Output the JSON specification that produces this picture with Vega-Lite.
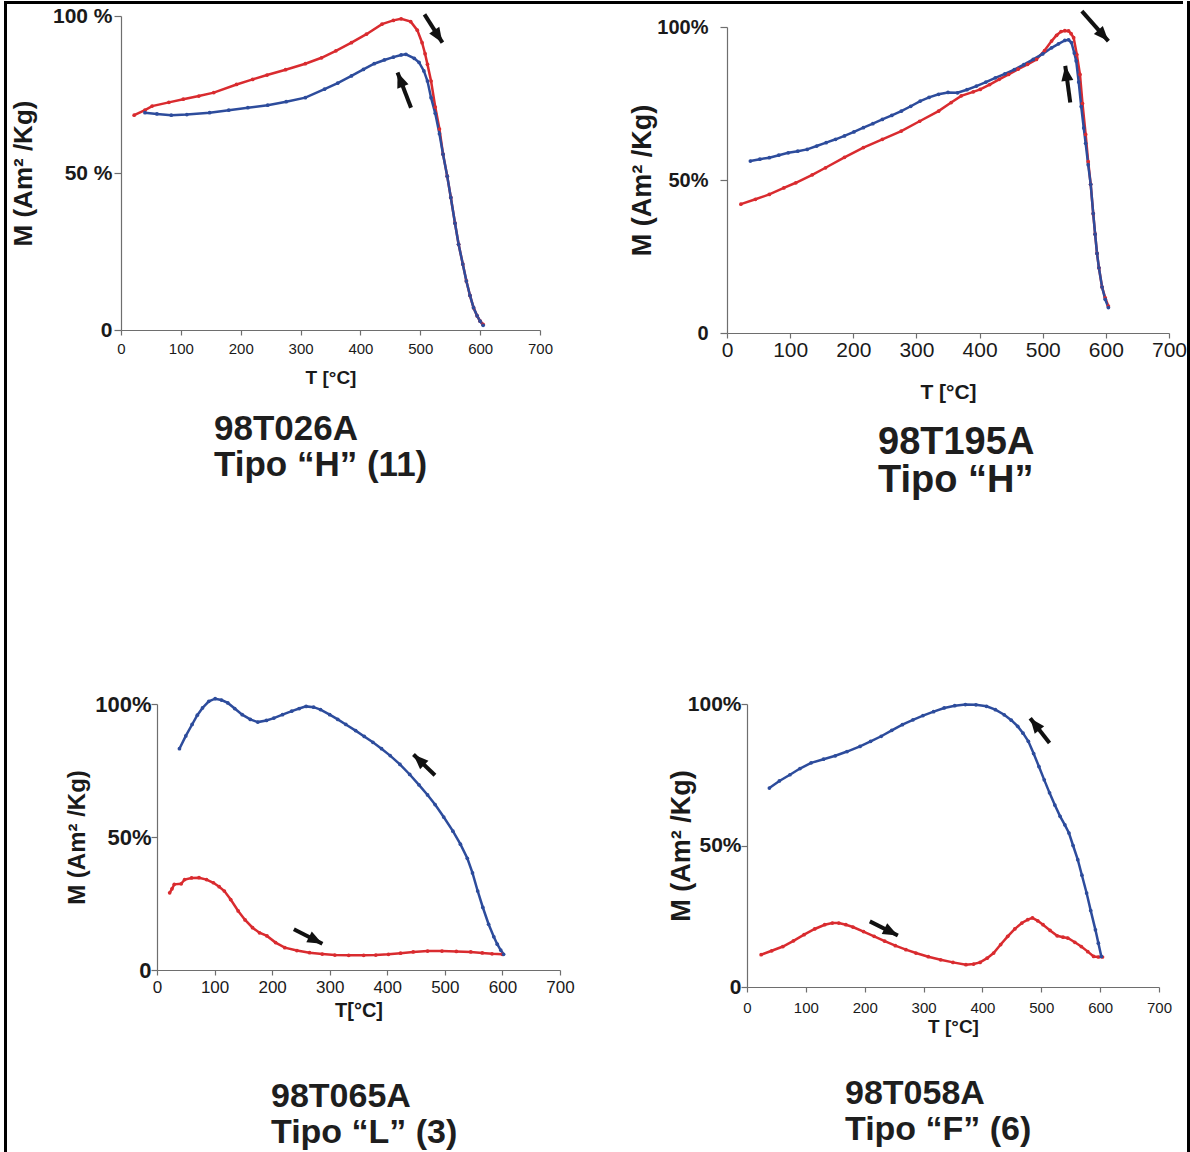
{
  "$schema": "https://vega.github.io/schema/vega-lite/v6.json",
  "padding": {"left": 4, "top": 1, "right": 0, "bottom": 0},
  "background": "white",
  "config": {
    "view": {"stroke": null},
    "font": "Liberation Sans",
    "axis": {"grid": false, "domainColor": "#6e6e6e", "tickColor": "#6e6e6e", "labelColor": "#1a1a1a", "titleColor": "#1a1a1a", "labelFlush": false, "labelOverlap": false, "labelBound": false, "domainWidth": 1.2, "tickWidth": 1.2},
    "title": {"color": "#1e1e1e", "fontWeight": "bold", "orient": "bottom", "anchor": "start", "align": "left", "frame": "group"}
  },
  "datasets": {
    "p1": [
      {"T": 22, "M": 68.4, "run": "heating"}, {"T": 40, "M": 70, "run": "heating"}, {"T": 52, "M": 71.3, "run": "heating"}, {"T": 80, "M": 72.5, "run": "heating"}, {"T": 104, "M": 73.5, "run": "heating"}, {"T": 130, "M": 74.5, "run": "heating"}, {"T": 155, "M": 75.6, "run": "heating"}, {"T": 193, "M": 78.2, "run": "heating"}, {"T": 220, "M": 79.8, "run": "heating"}, {"T": 244, "M": 81.2, "run": "heating"}, {"T": 275, "M": 82.9, "run": "heating"}, {"T": 308, "M": 84.8, "run": "heating"}, {"T": 335, "M": 86.7, "run": "heating"}, {"T": 359, "M": 88.9, "run": "heating"}, {"T": 385, "M": 91.5, "run": "heating"}, {"T": 410, "M": 94.2, "run": "heating"}, {"T": 436, "M": 97.4, "run": "heating"}, {"T": 455, "M": 98.6, "run": "heating"}, {"T": 468, "M": 99.1, "run": "heating"}, {"T": 484, "M": 98.2, "run": "heating"}, {"T": 495, "M": 95.5, "run": "heating"}, {"T": 503, "M": 91.5, "run": "heating"}, {"T": 508, "M": 88, "run": "heating"}, {"T": 512, "M": 84.6, "run": "heating"}, {"T": 518, "M": 79.3, "run": "heating"}, {"T": 525, "M": 71, "run": "heating"}, {"T": 532, "M": 64, "run": "heating"}, {"T": 538, "M": 56, "run": "heating"}, {"T": 545, "M": 49, "run": "heating"}, {"T": 551, "M": 42.2, "run": "heating"}, {"T": 558, "M": 34, "run": "heating"}, {"T": 564, "M": 27.3, "run": "heating"}, {"T": 571, "M": 21, "run": "heating"}, {"T": 577, "M": 15.6, "run": "heating"}, {"T": 583, "M": 11, "run": "heating"}, {"T": 589, "M": 7.1, "run": "heating"}, {"T": 595, "M": 4.5, "run": "heating"}, {"T": 600, "M": 2.8, "run": "heating"}, {"T": 605, "M": 1.8, "run": "heating"},
      {"T": 40, "M": 69.2, "run": "cooling"}, {"T": 60, "M": 68.8, "run": "cooling"}, {"T": 84, "M": 68.4, "run": "cooling"}, {"T": 110, "M": 68.6, "run": "cooling"}, {"T": 148, "M": 69.2, "run": "cooling"}, {"T": 180, "M": 70, "run": "cooling"}, {"T": 212, "M": 70.8, "run": "cooling"}, {"T": 245, "M": 71.6, "run": "cooling"}, {"T": 276, "M": 72.7, "run": "cooling"}, {"T": 308, "M": 74, "run": "cooling"}, {"T": 340, "M": 76.7, "run": "cooling"}, {"T": 362, "M": 78.6, "run": "cooling"}, {"T": 385, "M": 80.9, "run": "cooling"}, {"T": 405, "M": 83, "run": "cooling"}, {"T": 423, "M": 84.8, "run": "cooling"}, {"T": 440, "M": 86, "run": "cooling"}, {"T": 455, "M": 86.9, "run": "cooling"}, {"T": 468, "M": 87.6, "run": "cooling"}, {"T": 476, "M": 87.8, "run": "cooling"}, {"T": 490, "M": 86.5, "run": "cooling"}, {"T": 498, "M": 85.2, "run": "cooling"}, {"T": 506, "M": 82.5, "run": "cooling"}, {"T": 512, "M": 79.3, "run": "cooling"}, {"T": 518, "M": 74, "run": "cooling"}, {"T": 525, "M": 69, "run": "cooling"}, {"T": 532, "M": 62.5, "run": "cooling"}, {"T": 538, "M": 56, "run": "cooling"}, {"T": 545, "M": 49, "run": "cooling"}, {"T": 551, "M": 42.2, "run": "cooling"}, {"T": 558, "M": 34, "run": "cooling"}, {"T": 564, "M": 27.3, "run": "cooling"}, {"T": 571, "M": 21, "run": "cooling"}, {"T": 577, "M": 15.6, "run": "cooling"}, {"T": 583, "M": 11, "run": "cooling"}, {"T": 589, "M": 7.1, "run": "cooling"}, {"T": 595, "M": 4.5, "run": "cooling"}, {"T": 600, "M": 2.8, "run": "cooling"}, {"T": 605, "M": 1.5, "run": "cooling"}
    ],
    "p2": [
      {"T": 22, "M": 42.1, "run": "heating"}, {"T": 45, "M": 43.7, "run": "heating"}, {"T": 67, "M": 45.3, "run": "heating"}, {"T": 90, "M": 47.4, "run": "heating"}, {"T": 109, "M": 49.1, "run": "heating"}, {"T": 135, "M": 51.7, "run": "heating"}, {"T": 156, "M": 54, "run": "heating"}, {"T": 186, "M": 57.4, "run": "heating"}, {"T": 216, "M": 60.6, "run": "heating"}, {"T": 246, "M": 63.3, "run": "heating"}, {"T": 276, "M": 66, "run": "heating"}, {"T": 305, "M": 69.2, "run": "heating"}, {"T": 335, "M": 72.5, "run": "heating"}, {"T": 355, "M": 75.3, "run": "heating"}, {"T": 371, "M": 77.5, "run": "heating"}, {"T": 390, "M": 78.8, "run": "heating"}, {"T": 401, "M": 79.6, "run": "heating"}, {"T": 416, "M": 81.2, "run": "heating"}, {"T": 431, "M": 82.9, "run": "heating"}, {"T": 446, "M": 84.5, "run": "heating"}, {"T": 461, "M": 86.2, "run": "heating"}, {"T": 476, "M": 87.8, "run": "heating"}, {"T": 490, "M": 89.4, "run": "heating"}, {"T": 503, "M": 92.3, "run": "heating"}, {"T": 514, "M": 95.4, "run": "heating"}, {"T": 522, "M": 97.3, "run": "heating"}, {"T": 529, "M": 98.5, "run": "heating"}, {"T": 535, "M": 98.8, "run": "heating"}, {"T": 541, "M": 98.7, "run": "heating"}, {"T": 545, "M": 97.8, "run": "heating"}, {"T": 549, "M": 96.5, "run": "heating"}, {"T": 554, "M": 91, "run": "heating"}, {"T": 559, "M": 84.5, "run": "heating"}, {"T": 563, "M": 75, "run": "heating"}, {"T": 568, "M": 64.9, "run": "heating"}, {"T": 572, "M": 56, "run": "heating"}, {"T": 576, "M": 48.6, "run": "heating"}, {"T": 580, "M": 39, "run": "heating"}, {"T": 583, "M": 32.3, "run": "heating"}, {"T": 586, "M": 26, "run": "heating"}, {"T": 589, "M": 21.3, "run": "heating"}, {"T": 594, "M": 15, "run": "heating"}, {"T": 599, "M": 11.5, "run": "heating"}, {"T": 604, "M": 8.8, "run": "heating"},
      {"T": 37, "M": 56.2, "run": "cooling"}, {"T": 52, "M": 56.8, "run": "cooling"}, {"T": 67, "M": 57.3, "run": "cooling"}, {"T": 82, "M": 58.1, "run": "cooling"}, {"T": 97, "M": 58.9, "run": "cooling"}, {"T": 112, "M": 59.4, "run": "cooling"}, {"T": 127, "M": 60, "run": "cooling"}, {"T": 142, "M": 61.1, "run": "cooling"}, {"T": 157, "M": 62.2, "run": "cooling"}, {"T": 172, "M": 63.3, "run": "cooling"}, {"T": 186, "M": 64.4, "run": "cooling"}, {"T": 201, "M": 65.7, "run": "cooling"}, {"T": 216, "M": 67.1, "run": "cooling"}, {"T": 231, "M": 68.4, "run": "cooling"}, {"T": 246, "M": 69.8, "run": "cooling"}, {"T": 261, "M": 71.1, "run": "cooling"}, {"T": 276, "M": 72.5, "run": "cooling"}, {"T": 291, "M": 74.1, "run": "cooling"}, {"T": 306, "M": 75.8, "run": "cooling"}, {"T": 320, "M": 77, "run": "cooling"}, {"T": 335, "M": 78, "run": "cooling"}, {"T": 350, "M": 78.6, "run": "cooling"}, {"T": 365, "M": 78.5, "run": "cooling"}, {"T": 380, "M": 79.5, "run": "cooling"}, {"T": 395, "M": 80.7, "run": "cooling"}, {"T": 410, "M": 82, "run": "cooling"}, {"T": 425, "M": 83.4, "run": "cooling"}, {"T": 440, "M": 84.7, "run": "cooling"}, {"T": 455, "M": 86.1, "run": "cooling"}, {"T": 470, "M": 87.7, "run": "cooling"}, {"T": 485, "M": 89.4, "run": "cooling"}, {"T": 500, "M": 91.2, "run": "cooling"}, {"T": 514, "M": 93.2, "run": "cooling"}, {"T": 525, "M": 94.5, "run": "cooling"}, {"T": 535, "M": 95.6, "run": "cooling"}, {"T": 541, "M": 95.8, "run": "cooling"}, {"T": 545.5, "M": 94.9, "run": "cooling"}, {"T": 550, "M": 91.5, "run": "cooling"}, {"T": 553, "M": 88.9, "run": "cooling"}, {"T": 557, "M": 82, "run": "cooling"}, {"T": 561, "M": 74, "run": "cooling"}, {"T": 565, "M": 67, "run": "cooling"}, {"T": 568, "M": 62, "run": "cooling"}, {"T": 572, "M": 55, "run": "cooling"}, {"T": 576, "M": 48.6, "run": "cooling"}, {"T": 580, "M": 39, "run": "cooling"}, {"T": 583, "M": 32.3, "run": "cooling"}, {"T": 586, "M": 26, "run": "cooling"}, {"T": 589, "M": 21.3, "run": "cooling"}, {"T": 594, "M": 15, "run": "cooling"}, {"T": 599, "M": 11, "run": "cooling"}, {"T": 604, "M": 8.3, "run": "cooling"}
    ],
    "p3": [
      {"T": 22, "M": 29, "run": "heating"}, {"T": 26, "M": 30.5, "run": "heating"}, {"T": 30, "M": 32.2, "run": "heating"}, {"T": 42, "M": 32.4, "run": "heating"}, {"T": 48, "M": 34, "run": "heating"}, {"T": 60, "M": 34.6, "run": "heating"}, {"T": 73, "M": 34.7, "run": "heating"}, {"T": 86, "M": 34, "run": "heating"}, {"T": 98, "M": 32.8, "run": "heating"}, {"T": 108, "M": 31.3, "run": "heating"}, {"T": 117, "M": 29.7, "run": "heating"}, {"T": 128, "M": 26.5, "run": "heating"}, {"T": 141, "M": 22.2, "run": "heating"}, {"T": 153, "M": 18.8, "run": "heating"}, {"T": 166, "M": 15.9, "run": "heating"}, {"T": 178, "M": 14, "run": "heating"}, {"T": 191, "M": 12.8, "run": "heating"}, {"T": 206, "M": 10.3, "run": "heating"}, {"T": 222, "M": 8.4, "run": "heating"}, {"T": 243, "M": 7.3, "run": "heating"}, {"T": 265, "M": 6.5, "run": "heating"}, {"T": 287, "M": 6, "run": "heating"}, {"T": 309, "M": 5.6, "run": "heating"}, {"T": 333, "M": 5.5, "run": "heating"}, {"T": 359, "M": 5.5, "run": "heating"}, {"T": 380, "M": 5.6, "run": "heating"}, {"T": 402, "M": 5.9, "run": "heating"}, {"T": 423, "M": 6.3, "run": "heating"}, {"T": 445, "M": 6.8, "run": "heating"}, {"T": 470, "M": 7.1, "run": "heating"}, {"T": 495, "M": 7.1, "run": "heating"}, {"T": 520, "M": 7, "run": "heating"}, {"T": 545, "M": 6.8, "run": "heating"}, {"T": 565, "M": 6.4, "run": "heating"}, {"T": 582, "M": 6.1, "run": "heating"}, {"T": 600, "M": 5.9, "run": "heating"},
      {"T": 39, "M": 83.2, "run": "cooling"}, {"T": 50, "M": 88, "run": "cooling"}, {"T": 61, "M": 92.3, "run": "cooling"}, {"T": 70, "M": 95.8, "run": "cooling"}, {"T": 79, "M": 98.5, "run": "cooling"}, {"T": 90, "M": 101, "run": "cooling"}, {"T": 101, "M": 102, "run": "cooling"}, {"T": 112, "M": 101.5, "run": "cooling"}, {"T": 123, "M": 100.4, "run": "cooling"}, {"T": 135, "M": 98.3, "run": "cooling"}, {"T": 148, "M": 96, "run": "cooling"}, {"T": 162, "M": 94.2, "run": "cooling"}, {"T": 175, "M": 93.2, "run": "cooling"}, {"T": 190, "M": 93.8, "run": "cooling"}, {"T": 203, "M": 94.7, "run": "cooling"}, {"T": 218, "M": 96, "run": "cooling"}, {"T": 234, "M": 97.3, "run": "cooling"}, {"T": 247, "M": 98.3, "run": "cooling"}, {"T": 259, "M": 99.1, "run": "cooling"}, {"T": 272, "M": 98.8, "run": "cooling"}, {"T": 284, "M": 97.9, "run": "cooling"}, {"T": 300, "M": 96, "run": "cooling"}, {"T": 314, "M": 94.2, "run": "cooling"}, {"T": 328, "M": 92.3, "run": "cooling"}, {"T": 345, "M": 90, "run": "cooling"}, {"T": 360, "M": 87.8, "run": "cooling"}, {"T": 375, "M": 85.6, "run": "cooling"}, {"T": 390, "M": 83.2, "run": "cooling"}, {"T": 405, "M": 80.6, "run": "cooling"}, {"T": 422, "M": 77.3, "run": "cooling"}, {"T": 439, "M": 73.5, "run": "cooling"}, {"T": 455, "M": 69.6, "run": "cooling"}, {"T": 470, "M": 65.8, "run": "cooling"}, {"T": 483, "M": 62.2, "run": "cooling"}, {"T": 498, "M": 57.5, "run": "cooling"}, {"T": 514, "M": 52.2, "run": "cooling"}, {"T": 527, "M": 47.3, "run": "cooling"}, {"T": 539, "M": 42, "run": "cooling"}, {"T": 548, "M": 36.5, "run": "cooling"}, {"T": 557, "M": 29.7, "run": "cooling"}, {"T": 566, "M": 23.5, "run": "cooling"}, {"T": 576, "M": 17.2, "run": "cooling"}, {"T": 585, "M": 12.5, "run": "cooling"}, {"T": 591, "M": 9.7, "run": "cooling"}, {"T": 597, "M": 7.5, "run": "cooling"}, {"T": 602, "M": 5.9, "run": "cooling"}
    ],
    "p4": [
      {"T": 24, "M": 11.4, "run": "heating"}, {"T": 42, "M": 12.8, "run": "heating"}, {"T": 61, "M": 14.3, "run": "heating"}, {"T": 79, "M": 16.3, "run": "heating"}, {"T": 97, "M": 18.5, "run": "heating"}, {"T": 115, "M": 20.5, "run": "heating"}, {"T": 132, "M": 22, "run": "heating"}, {"T": 145, "M": 22.6, "run": "heating"}, {"T": 156, "M": 22.6, "run": "heating"}, {"T": 168, "M": 22, "run": "heating"}, {"T": 180, "M": 21.2, "run": "heating"}, {"T": 198, "M": 19.6, "run": "heating"}, {"T": 216, "M": 17.9, "run": "heating"}, {"T": 234, "M": 16.2, "run": "heating"}, {"T": 252, "M": 14.6, "run": "heating"}, {"T": 270, "M": 13.2, "run": "heating"}, {"T": 287, "M": 12, "run": "heating"}, {"T": 308, "M": 10.7, "run": "heating"}, {"T": 329, "M": 9.6, "run": "heating"}, {"T": 350, "M": 8.7, "run": "heating"}, {"T": 372, "M": 7.9, "run": "heating"}, {"T": 385, "M": 8.1, "run": "heating"}, {"T": 396, "M": 8.7, "run": "heating"}, {"T": 408, "M": 10.2, "run": "heating"}, {"T": 419, "M": 12, "run": "heating"}, {"T": 431, "M": 15, "run": "heating"}, {"T": 443, "M": 17.9, "run": "heating"}, {"T": 455, "M": 20.5, "run": "heating"}, {"T": 467, "M": 22.6, "run": "heating"}, {"T": 477, "M": 23.8, "run": "heating"}, {"T": 485, "M": 24.4, "run": "heating"}, {"T": 494, "M": 23.4, "run": "heating"}, {"T": 503, "M": 22, "run": "heating"}, {"T": 515, "M": 20, "run": "heating"}, {"T": 527, "M": 18.1, "run": "heating"}, {"T": 537, "M": 17.6, "run": "heating"}, {"T": 545, "M": 17.3, "run": "heating"}, {"T": 557, "M": 15.8, "run": "heating"}, {"T": 568, "M": 14.3, "run": "heating"}, {"T": 579, "M": 12.5, "run": "heating"}, {"T": 589, "M": 10.8, "run": "heating"}, {"T": 597, "M": 10.6, "run": "heating"}, {"T": 604, "M": 10.6, "run": "heating"},
      {"T": 38, "M": 70.3, "run": "cooling"}, {"T": 55, "M": 72.8, "run": "cooling"}, {"T": 73, "M": 75, "run": "cooling"}, {"T": 90, "M": 77.2, "run": "cooling"}, {"T": 109, "M": 79.2, "run": "cooling"}, {"T": 130, "M": 80.5, "run": "cooling"}, {"T": 150, "M": 81.7, "run": "cooling"}, {"T": 170, "M": 83.2, "run": "cooling"}, {"T": 192, "M": 85, "run": "cooling"}, {"T": 210, "M": 86.8, "run": "cooling"}, {"T": 228, "M": 88.6, "run": "cooling"}, {"T": 246, "M": 90.7, "run": "cooling"}, {"T": 264, "M": 92.7, "run": "cooling"}, {"T": 282, "M": 94.4, "run": "cooling"}, {"T": 299, "M": 95.9, "run": "cooling"}, {"T": 317, "M": 97.3, "run": "cooling"}, {"T": 335, "M": 98.6, "run": "cooling"}, {"T": 353, "M": 99.4, "run": "cooling"}, {"T": 371, "M": 99.8, "run": "cooling"}, {"T": 389, "M": 99.7, "run": "cooling"}, {"T": 407, "M": 99.2, "run": "cooling"}, {"T": 422, "M": 98, "run": "cooling"}, {"T": 437, "M": 96.2, "run": "cooling"}, {"T": 449, "M": 94.3, "run": "cooling"}, {"T": 460, "M": 92.1, "run": "cooling"}, {"T": 469, "M": 89.7, "run": "cooling"}, {"T": 478, "M": 86.8, "run": "cooling"}, {"T": 487, "M": 82.5, "run": "cooling"}, {"T": 496, "M": 77.9, "run": "cooling"}, {"T": 505, "M": 73.2, "run": "cooling"}, {"T": 514, "M": 68.6, "run": "cooling"}, {"T": 523, "M": 64.3, "run": "cooling"}, {"T": 532, "M": 60.3, "run": "cooling"}, {"T": 540, "M": 57.3, "run": "cooling"}, {"T": 547, "M": 54.4, "run": "cooling"}, {"T": 554, "M": 50, "run": "cooling"}, {"T": 562, "M": 45, "run": "cooling"}, {"T": 569, "M": 39.5, "run": "cooling"}, {"T": 577, "M": 33.2, "run": "cooling"}, {"T": 584, "M": 27, "run": "cooling"}, {"T": 592, "M": 20.2, "run": "cooling"}, {"T": 597, "M": 15.5, "run": "cooling"}, {"T": 602, "M": 10.8, "run": "cooling"}
    ],
    "a1": [{"T": 507, "M": 100.5, "T2": 537, "M2": 91.5, "angle": 147}, {"T": 484.5, "M": 70.8, "T2": 462, "M2": 82, "angle": 339}],
    "a2": [{"T": 562, "M": 105.2, "T2": 604, "M2": 95.4, "angle": 138}, {"T": 543.6, "M": 75.3, "T2": 535.7, "M2": 87.3, "angle": 352}],
    "a3": [{"T": 482.8, "M": 73.2, "T2": 445.5, "M2": 81, "angle": 314}, {"T": 237.7, "M": 15.3, "T2": 287.3, "M2": 9.9, "angle": 117}],
    "a4": [{"T": 514, "M": 86.2, "T2": 481.2, "M2": 95, "angle": 322}, {"T": 208.7, "M": 23.2, "T2": 256.3, "M2": 18.2, "angle": 117}]
  },
  "spacing": 0,
  "hconcat": [
    {"width": 3, "height": 1170, "view": {"fill": "#000000", "stroke": null}, "data": {"values": []}, "mark": "point"},
    {
      "spacing": 0,
      "hconcat": [
        {
          "spacing": 0,
          "vconcat": [
            {"width": 1176, "height": 3, "view": {"fill": "#000000", "stroke": null}, "data": {"values": []}, "mark": "point"},
            {
              "spacing": 193,
              "vconcat": [
                {
                  "spacing": 0,
                  "hconcat": [
                    {"width": 3, "height": 1, "data": {"values": []}, "mark": "point"},
                    {
                      "spacing": 75,
                      "hconcat": [
                        {
                          "spacing": 0,
                          "vconcat": [
                            {"width": 1, "height": 1, "data": {"values": []}, "mark": "point"},
                            {
                              "width": 419, "height": 314,
                              "title": {"text": ["98T026A", "Tipo “H” (11)"], "dx": 93, "fontSize": 35, "lineHeight": 36, "offset": 25},
                              "layer": [
                                {"data": {"name": "p1"}, "mark": {"type": "line", "strokeWidth": 2.5},
                                 "encoding": {
                                   "x": {"field": "T", "type": "quantitative", "scale": {"domain": [0, 700], "nice": false}, "axis": {"title": "T [°C]", "values": [0, 100, 200, 300, 400, 500, 600, 700], "tickSize": 5, "labelFontSize": 15, "labelPadding": 6, "titleFontSize": 19, "titleFontWeight": "bold", "titlePadding": 12}},
                                   "y": {"field": "M", "type": "quantitative", "scale": {"domain": [0, 100], "nice": false}, "axis": {"title": "M (Am² /Kg)", "values": [0, 50, 100], "labelExpr": "datum.value == 0 ? '0' : datum.value + ' %'", "tickSize": 7, "labelPadding": 2, "labelFontSize": 21, "labelFontWeight": "bold", "titleFontSize": 26, "titleFontWeight": "bold", "titlePadding": 16}},
                                   "color": {"field": "run", "type": "nominal", "scale": {"domain": ["heating", "cooling"], "range": ["#d92b2f", "#2d4c9c"]}, "legend": null}
                                 }},
                                {"data": {"name": "p1"}, "mark": {"type": "point", "filled": true, "size": 14, "opacity": 1},
                                 "encoding": {"x": {"field": "T", "type": "quantitative"}, "y": {"field": "M", "type": "quantitative"}, "color": {"field": "run", "type": "nominal"}}},
                                {"data": {"name": "a1"}, "mark": {"type": "rule", "strokeWidth": 4, "color": "#111111"},
                                 "encoding": {"x": {"field": "T", "type": "quantitative"}, "y": {"field": "M", "type": "quantitative"}, "x2": {"field": "T2"}, "y2": {"field": "M2"}}},
                                {"data": {"name": "a1"}, "mark": {"type": "point", "shape": "M0,0L-0.6,1.5L0.6,1.5Z", "filled": true, "size": 400, "opacity": 1, "color": "#111111"},
                                 "encoding": {"x": {"field": "T2", "type": "quantitative"}, "y": {"field": "M2", "type": "quantitative"}, "angle": {"field": "angle", "type": "quantitative", "scale": null}}}
                              ]
                            }
                          ]
                        },
                        {
                          "spacing": 0,
                          "vconcat": [
                            {"width": 1, "height": 5, "data": {"values": []}, "mark": "point"},
                            {
                              "width": 442, "height": 306,
                              "title": {"text": ["98T195A", "Tipo “H”"], "dx": 151, "fontSize": 38, "lineHeight": 38, "offset": 22},
                              "layer": [
                                {"data": {"name": "p2"}, "mark": {"type": "line", "strokeWidth": 2.5},
                                 "encoding": {
                                   "x": {"field": "T", "type": "quantitative", "scale": {"domain": [0, 700], "nice": false}, "axis": {"title": "T [°C]", "values": [0, 100, 200, 300, 400, 500, 600, 700], "tickSize": 5, "labelFontSize": 21, "labelPadding": 1, "titleFontSize": 21, "titleFontWeight": "bold", "titlePadding": 21}},
                                   "y": {"field": "M", "type": "quantitative", "scale": {"domain": [0, 100], "nice": false}, "axis": {"title": "M (Am² /Kg)", "values": [0, 50, 100], "labelExpr": "datum.value == 0 ? '0' : datum.value + '%'", "tickSize": 7, "labelPadding": 12, "labelFontSize": 20, "labelFontWeight": "bold", "titleFontSize": 27, "titleFontWeight": "bold", "titlePadding": 0}},
                                   "color": {"field": "run", "type": "nominal", "scale": {"domain": ["heating", "cooling"], "range": ["#d92b2f", "#2d4c9c"]}, "legend": null}
                                 }},
                                {"data": {"name": "p2"}, "mark": {"type": "point", "filled": true, "size": 14, "opacity": 1},
                                 "encoding": {"x": {"field": "T", "type": "quantitative"}, "y": {"field": "M", "type": "quantitative"}, "color": {"field": "run", "type": "nominal"}}},
                                {"data": {"name": "a2"}, "mark": {"type": "rule", "strokeWidth": 4, "color": "#111111"},
                                 "encoding": {"x": {"field": "T", "type": "quantitative"}, "y": {"field": "M", "type": "quantitative"}, "x2": {"field": "T2"}, "y2": {"field": "M2"}}},
                                {"data": {"name": "a2"}, "mark": {"type": "point", "shape": "M0,0L-0.6,1.5L0.6,1.5Z", "filled": true, "size": 400, "opacity": 1, "color": "#111111"},
                                 "encoding": {"x": {"field": "T2", "type": "quantitative"}, "y": {"field": "M2", "type": "quantitative"}, "angle": {"field": "angle", "type": "quantitative", "scale": null}}}
                              ]
                            }
                          ]
                        }
                      ]
                    }
                  ]
                },
                {
                  "spacing": 0,
                  "hconcat": [
                    {"width": 58, "height": 1, "data": {"values": []}, "mark": "point"},
                    {
                      "spacing": 92,
                      "hconcat": [
                        {
                          "width": 403, "height": 266,
                          "title": {"text": ["98T065A", "Tipo “L” (3)"], "dx": 114, "fontSize": 34, "lineHeight": 36, "offset": 60},
                          "layer": [
                            {"data": {"name": "p3"}, "mark": {"type": "line", "strokeWidth": 2.5},
                             "encoding": {
                               "x": {"field": "T", "type": "quantitative", "scale": {"domain": [0, 700], "nice": false}, "axis": {"title": "T[°C]", "values": [0, 100, 200, 300, 400, 500, 600, 700], "tickSize": 5, "labelFontSize": 17, "labelPadding": 4, "titleFontSize": 20, "titleFontWeight": "bold", "titlePadding": 5}},
                               "y": {"field": "M", "type": "quantitative", "scale": {"domain": [0, 100], "nice": false}, "axis": {"title": "M (Am² /Kg)", "values": [0, 50, 100], "labelExpr": "datum.value == 0 ? '0' : datum.value + '%'", "tickSize": 6, "labelPadding": 0, "labelFontSize": 22, "labelFontWeight": "bold", "titleFontSize": 24, "titleFontWeight": "bold", "titlePadding": 5}},
                               "color": {"field": "run", "type": "nominal", "scale": {"domain": ["heating", "cooling"], "range": ["#d92b2f", "#2d4c9c"]}, "legend": null}
                             }},
                            {"data": {"name": "p3"}, "mark": {"type": "point", "filled": true, "size": 14, "opacity": 1},
                             "encoding": {"x": {"field": "T", "type": "quantitative"}, "y": {"field": "M", "type": "quantitative"}, "color": {"field": "run", "type": "nominal"}}},
                            {"data": {"name": "a3"}, "mark": {"type": "rule", "strokeWidth": 4, "color": "#111111"},
                             "encoding": {"x": {"field": "T", "type": "quantitative"}, "y": {"field": "M", "type": "quantitative"}, "x2": {"field": "T2"}, "y2": {"field": "M2"}}},
                            {"data": {"name": "a3"}, "mark": {"type": "point", "shape": "M0,0L-0.6,1.5L0.6,1.5Z", "filled": true, "size": 400, "opacity": 1, "color": "#111111"},
                             "encoding": {"x": {"field": "T2", "type": "quantitative"}, "y": {"field": "M2", "type": "quantitative"}, "angle": {"field": "angle", "type": "quantitative", "scale": null}}}
                          ]
                        },
                        {
                          "width": 412, "height": 283,
                          "title": {"text": ["98T058A", "Tipo “F” (6)"], "dx": 98, "fontSize": 34, "lineHeight": 36, "offset": 41},
                          "layer": [
                            {"data": {"name": "p4"}, "mark": {"type": "line", "strokeWidth": 2.5},
                             "encoding": {
                               "x": {"field": "T", "type": "quantitative", "scale": {"domain": [0, 700], "nice": false}, "axis": {"title": "T [°C]", "values": [0, 100, 200, 300, 400, 500, 600, 700], "tickSize": 5, "labelFontSize": 15, "labelPadding": 8, "titleFontSize": 19, "titleFontWeight": "bold", "titlePadding": 2}},
                               "y": {"field": "M", "type": "quantitative", "scale": {"domain": [0, 100], "nice": false}, "axis": {"title": "M (Am² /Kg)", "values": [0, 50, 100], "labelExpr": "datum.value == 0 ? '0' : datum.value + '%'", "tickSize": 6, "labelPadding": 0, "labelFontSize": 21, "labelFontWeight": "bold", "titleFontSize": 27, "titleFontWeight": "bold", "titlePadding": -8}},
                               "color": {"field": "run", "type": "nominal", "scale": {"domain": ["heating", "cooling"], "range": ["#d92b2f", "#2d4c9c"]}, "legend": null}
                             }},
                            {"data": {"name": "p4"}, "mark": {"type": "point", "filled": true, "size": 14, "opacity": 1},
                             "encoding": {"x": {"field": "T", "type": "quantitative"}, "y": {"field": "M", "type": "quantitative"}, "color": {"field": "run", "type": "nominal"}}},
                            {"data": {"name": "a4"}, "mark": {"type": "rule", "strokeWidth": 4, "color": "#111111"},
                             "encoding": {"x": {"field": "T", "type": "quantitative"}, "y": {"field": "M", "type": "quantitative"}, "x2": {"field": "T2"}, "y2": {"field": "M2"}}},
                            {"data": {"name": "a4"}, "mark": {"type": "point", "shape": "M0,0L-0.6,1.5L0.6,1.5Z", "filled": true, "size": 400, "opacity": 1, "color": "#111111"},
                             "encoding": {"x": {"field": "T2", "type": "quantitative"}, "y": {"field": "M2", "type": "quantitative"}, "angle": {"field": "angle", "type": "quantitative", "scale": null}}}
                          ]
                        }
                      ]
                    }
                  ]
                }
              ]
            }
          ]
        },
        {"width": 4, "height": 1170, "view": {"fill": "#000000", "stroke": null}, "data": {"values": []}, "mark": "point"}
      ]
    }
  ]
}
